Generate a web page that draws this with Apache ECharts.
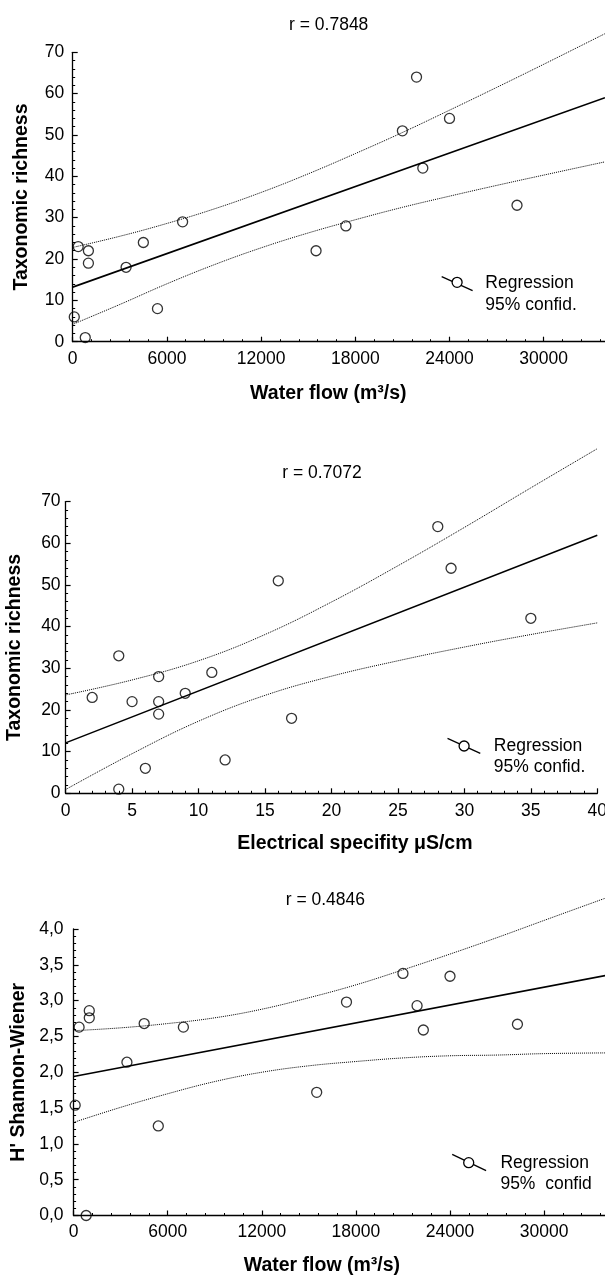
<!DOCTYPE html>
<html>
<head>
<meta charset="utf-8">
<script src="https://cdn.jsdelivr.net/npm/echarts@6/dist/echarts.min.js"></script>
<style>
  html, body { margin: 0; padding: 0; background: #fff; }
  #chart { width: 605px; height: 1276px; }
</style>
</head>
<body>
<div id="chart"></div>
<script>
// water flow (m3/s) of the 16 sites, shared by panel 1 and 3
const flowX = [21900, 21000, 24000, 22300, 28300, 7000, 17400, 4500, 350, 1000, 1000, 15500, 3400, 5400, 100, 800]
const richnessByFlow = [64, 51, 54, 42, 33, 29, 28, 24, 23, 22, 19, 22, 18, 8, 6, 1]
const shannonByFlow = [2.93, 3.38, 3.34, 2.59, 2.67, 2.63, 2.98, 2.68, 2.63, 2.86, 2.76, 1.72, 2.14, 1.25, 1.54, 0.0]

// electrical conductivity panel
const condX = [28, 29, 16, 35, 4, 11, 7, 9, 2, 5, 7, 7, 17, 12, 6, 4]
const richnessByCond = [64, 54, 51, 42, 33, 29, 28, 24, 23, 22, 22, 19, 18, 8, 6, 1]

// regression lines (ends) and 95% bands
const flowFitX = [0, 33900]
const richFlowFit = [13.2, 59.0]
const shanFlowFit = [1.94, 3.35]
const flowBandX = [0, 3000, 6000, 9000, 12000, 15000, 18000, 21000, 24000, 27000, 30000, 33900]
const richFlowUpper = [22.8, 25.5, 28.6, 32.1, 36.1, 40.6, 45.5, 50.6, 56.0, 61.5, 67.1, 74.5]
const richFlowLower = [4.2, 9.0, 14.0, 18.6, 22.7, 26.3, 29.5, 32.5, 35.2, 37.8, 40.3, 43.5]
const shanFlowUpper = [2.58, 2.62, 2.68, 2.76, 2.88, 3.04, 3.22, 3.43, 3.65, 3.88, 4.12, 4.43]
const shanFlowLower = [1.30, 1.51, 1.70, 1.87, 2.00, 2.09, 2.15, 2.20, 2.23, 2.24, 2.26, 2.27]

const condFitX = [0, 40]
const richCondFit = [12.1, 61.9]
const condBandX = [0, 5, 10, 15, 20, 25, 30, 35, 40]
const richCondUpper = [23.6, 27.2, 31.8, 38.1, 45.9, 54.6, 63.8, 73.3, 82.7]
const richCondLower = [0.9, 9.5, 17.3, 23.5, 28.1, 31.8, 35.1, 38.1, 40.9]

const titles = ['r = 0.7848', 'r = 0.7072', 'r = 0.4846']

const FONT = '"Liberation Sans", Arial, Helvetica, sans-serif'
const zip = (xs, ys) => xs.map((x, i) => [x, ys[i]])

const chart = echarts.init(document.getElementById('chart'), null, { renderer: 'canvas' })

function xAxisOpt(grid, max, interval, name, gap, pad, labelMargin, hideMax) {
  return {
    gridIndex: grid, type: 'value', min: 0, max: max, interval: interval,
    name: name, nameLocation: 'middle', nameGap: gap,
    nameTextStyle: { fontFamily: FONT, fontWeight: 'bold', fontSize: 19.5, color: '#000', padding: pad },
    axisLine: { lineStyle: { color: '#000', width: 1.3 } },
    axisTick: { inside: true, length: 5, lineStyle: { color: '#000', width: 1.2 } },
    minorTick: { show: true, splitNumber: 5, length: 2.5, lineStyle: { color: '#000', width: 1 } },
    splitLine: { show: false },
    axisLabel: {
      color: '#000', fontFamily: FONT, fontSize: 17.5, margin: labelMargin,
      showMaxLabel: !hideMax, formatter: v => String(v)
    }
  }
}

function yAxisOpt(grid, max, interval, name, gap, labelMargin, fmt) {
  return {
    gridIndex: grid, type: 'value', min: 0, max: max, interval: interval,
    name: name, nameLocation: 'middle', nameGap: gap,
    nameTextStyle: { fontFamily: FONT, fontWeight: 'bold', fontSize: 19.5, color: '#000' },
    axisLine: { show: true, lineStyle: { color: '#000', width: 1.3 } },
    axisTick: { inside: true, length: 5, lineStyle: { color: '#000', width: 1.2 } },
    minorTick: { show: true, splitNumber: 5, length: 2.5, lineStyle: { color: '#000', width: 1 } },
    splitLine: { show: false },
    axisLabel: { color: '#000', fontFamily: FONT, fontSize: 17.5, margin: labelMargin, formatter: fmt || (v => String(v)) }
  }
}

function panelSeries(idx, px, py, fitX, fitY, bandX, upper, lower) {
  return [
    {
      type: 'scatter', xAxisIndex: idx, yAxisIndex: idx, clip: false,
      data: zip(px, py), symbol: 'circle', symbolSize: 10,
      itemStyle: { color: 'transparent', borderColor: '#000', borderWidth: 1.3 },
      z: 5
    },
    {
      type: 'line', xAxisIndex: idx, yAxisIndex: idx, clip: false,
      data: zip(fitX, fitY), showSymbol: false, symbol: 'none',
      lineStyle: { color: '#000', width: 1.6 }
    },
    {
      type: 'line', xAxisIndex: idx, yAxisIndex: idx, clip: false, smooth: 0.4,
      data: zip(bandX, upper), showSymbol: false, symbol: 'none',
      lineStyle: { color: '#000', width: 1, type: 'dotted' }
    },
    {
      type: 'line', xAxisIndex: idx, yAxisIndex: idx, clip: false, smooth: 0.4,
      data: zip(bandX, lower), showSymbol: false, symbol: 'none',
      lineStyle: { color: '#000', width: 1, type: 'dotted' }
    }
  ]
}

function text(str, x, y, align) {
  return {
    type: 'text', z: 10,
    style: { text: str, x: x, y: y, align: align, verticalAlign: 'middle',
      fontFamily: FONT, fontSize: 17.5, fill: '#000' }
  }
}

function legend(x1, y1, x2, y2, cx, cy, tx, ty1, ty2, second) {
  return [
    { type: 'line', z: 10, shape: { x1: x1, y1: y1, x2: x2, y2: y2 }, style: { stroke: '#000', lineWidth: 1.3 } },
    { type: 'circle', z: 11, shape: { cx: cx, cy: cy, r: 5 }, style: { fill: '#fff', stroke: '#000', lineWidth: 1.3 } },
    text('Regression', tx, ty1, 'left'),
    text(second, tx, ty2, 'left')
  ]
}

const pct = v => v.toFixed(1).replace('.', ',')

chart.setOption({
  backgroundColor: '#fff',
  animation: false,
  // the flow axes run past the right edge (the figure is cropped there)
  grid: [
    { left: 72.7, top: 52.3, width: 565.2, height: 289.4, outerBoundsMode: 'none', containLabel: false },
    { left: 65.6, top: 501.6, width: 531.7, height: 291.7, outerBoundsMode: 'none', containLabel: false },
    { left: 73.6, top: 929, width: 564.6, height: 286.5, outerBoundsMode: 'none', containLabel: false }
  ],
  xAxis: [
    xAxisOpt(0, 36000, 6000, 'Water flow (m³/s)', 42.3, [0, 54, 0, 0], 8, true),
    xAxisOpt(1, 40, 5, 'Electrical specifity μS/cm', 40.2, [0, 0, 0, 47], 9, false),
    xAxisOpt(2, 36000, 6000, 'Water flow (m³/s)', 40.5, [0, 68, 0, 0], 7.7, true)
  ],
  yAxis: [
    yAxisOpt(0, 70, 10, 'Taxonomic richness', 40.8, 8.5),
    yAxisOpt(1, 70, 10, 'Taxonomic richness', 40.5, 5),
    yAxisOpt(2, 4, 0.5, "H' Shannon-Wiener", 42.3, 10, pct)
  ],
  series: [
    ...panelSeries(0, flowX, richnessByFlow, flowFitX, richFlowFit, flowBandX, richFlowUpper, richFlowLower),
    ...panelSeries(1, condX, richnessByCond, condFitX, richCondFit, condBandX, richCondUpper, richCondLower),
    ...panelSeries(2, flowX, shannonByFlow, flowFitX, shanFlowFit, flowBandX, shanFlowUpper, shanFlowLower)
  ],
  graphic: [
    text(titles[0], 328.7, 25, 'center'),
    text(titles[1], 322, 472.8, 'center'),
    text(titles[2], 325.4, 900.2, 'center'),
    ...legend(441.7, 276.7, 472.6, 290.7, 457.1, 282.3, 485.3, 283.3, 304.8, '95% confid.'),
    ...legend(447.5, 738.3, 480.3, 753.3, 464.1, 746, 493.8, 745.8, 767.5, '95% confid.'),
    ...legend(452.2, 1154.3, 486.1, 1170.7, 468.7, 1162.7, 500.4, 1163.3, 1184, '95%  confid')
  ]
})
</script>
</body>
</html>
